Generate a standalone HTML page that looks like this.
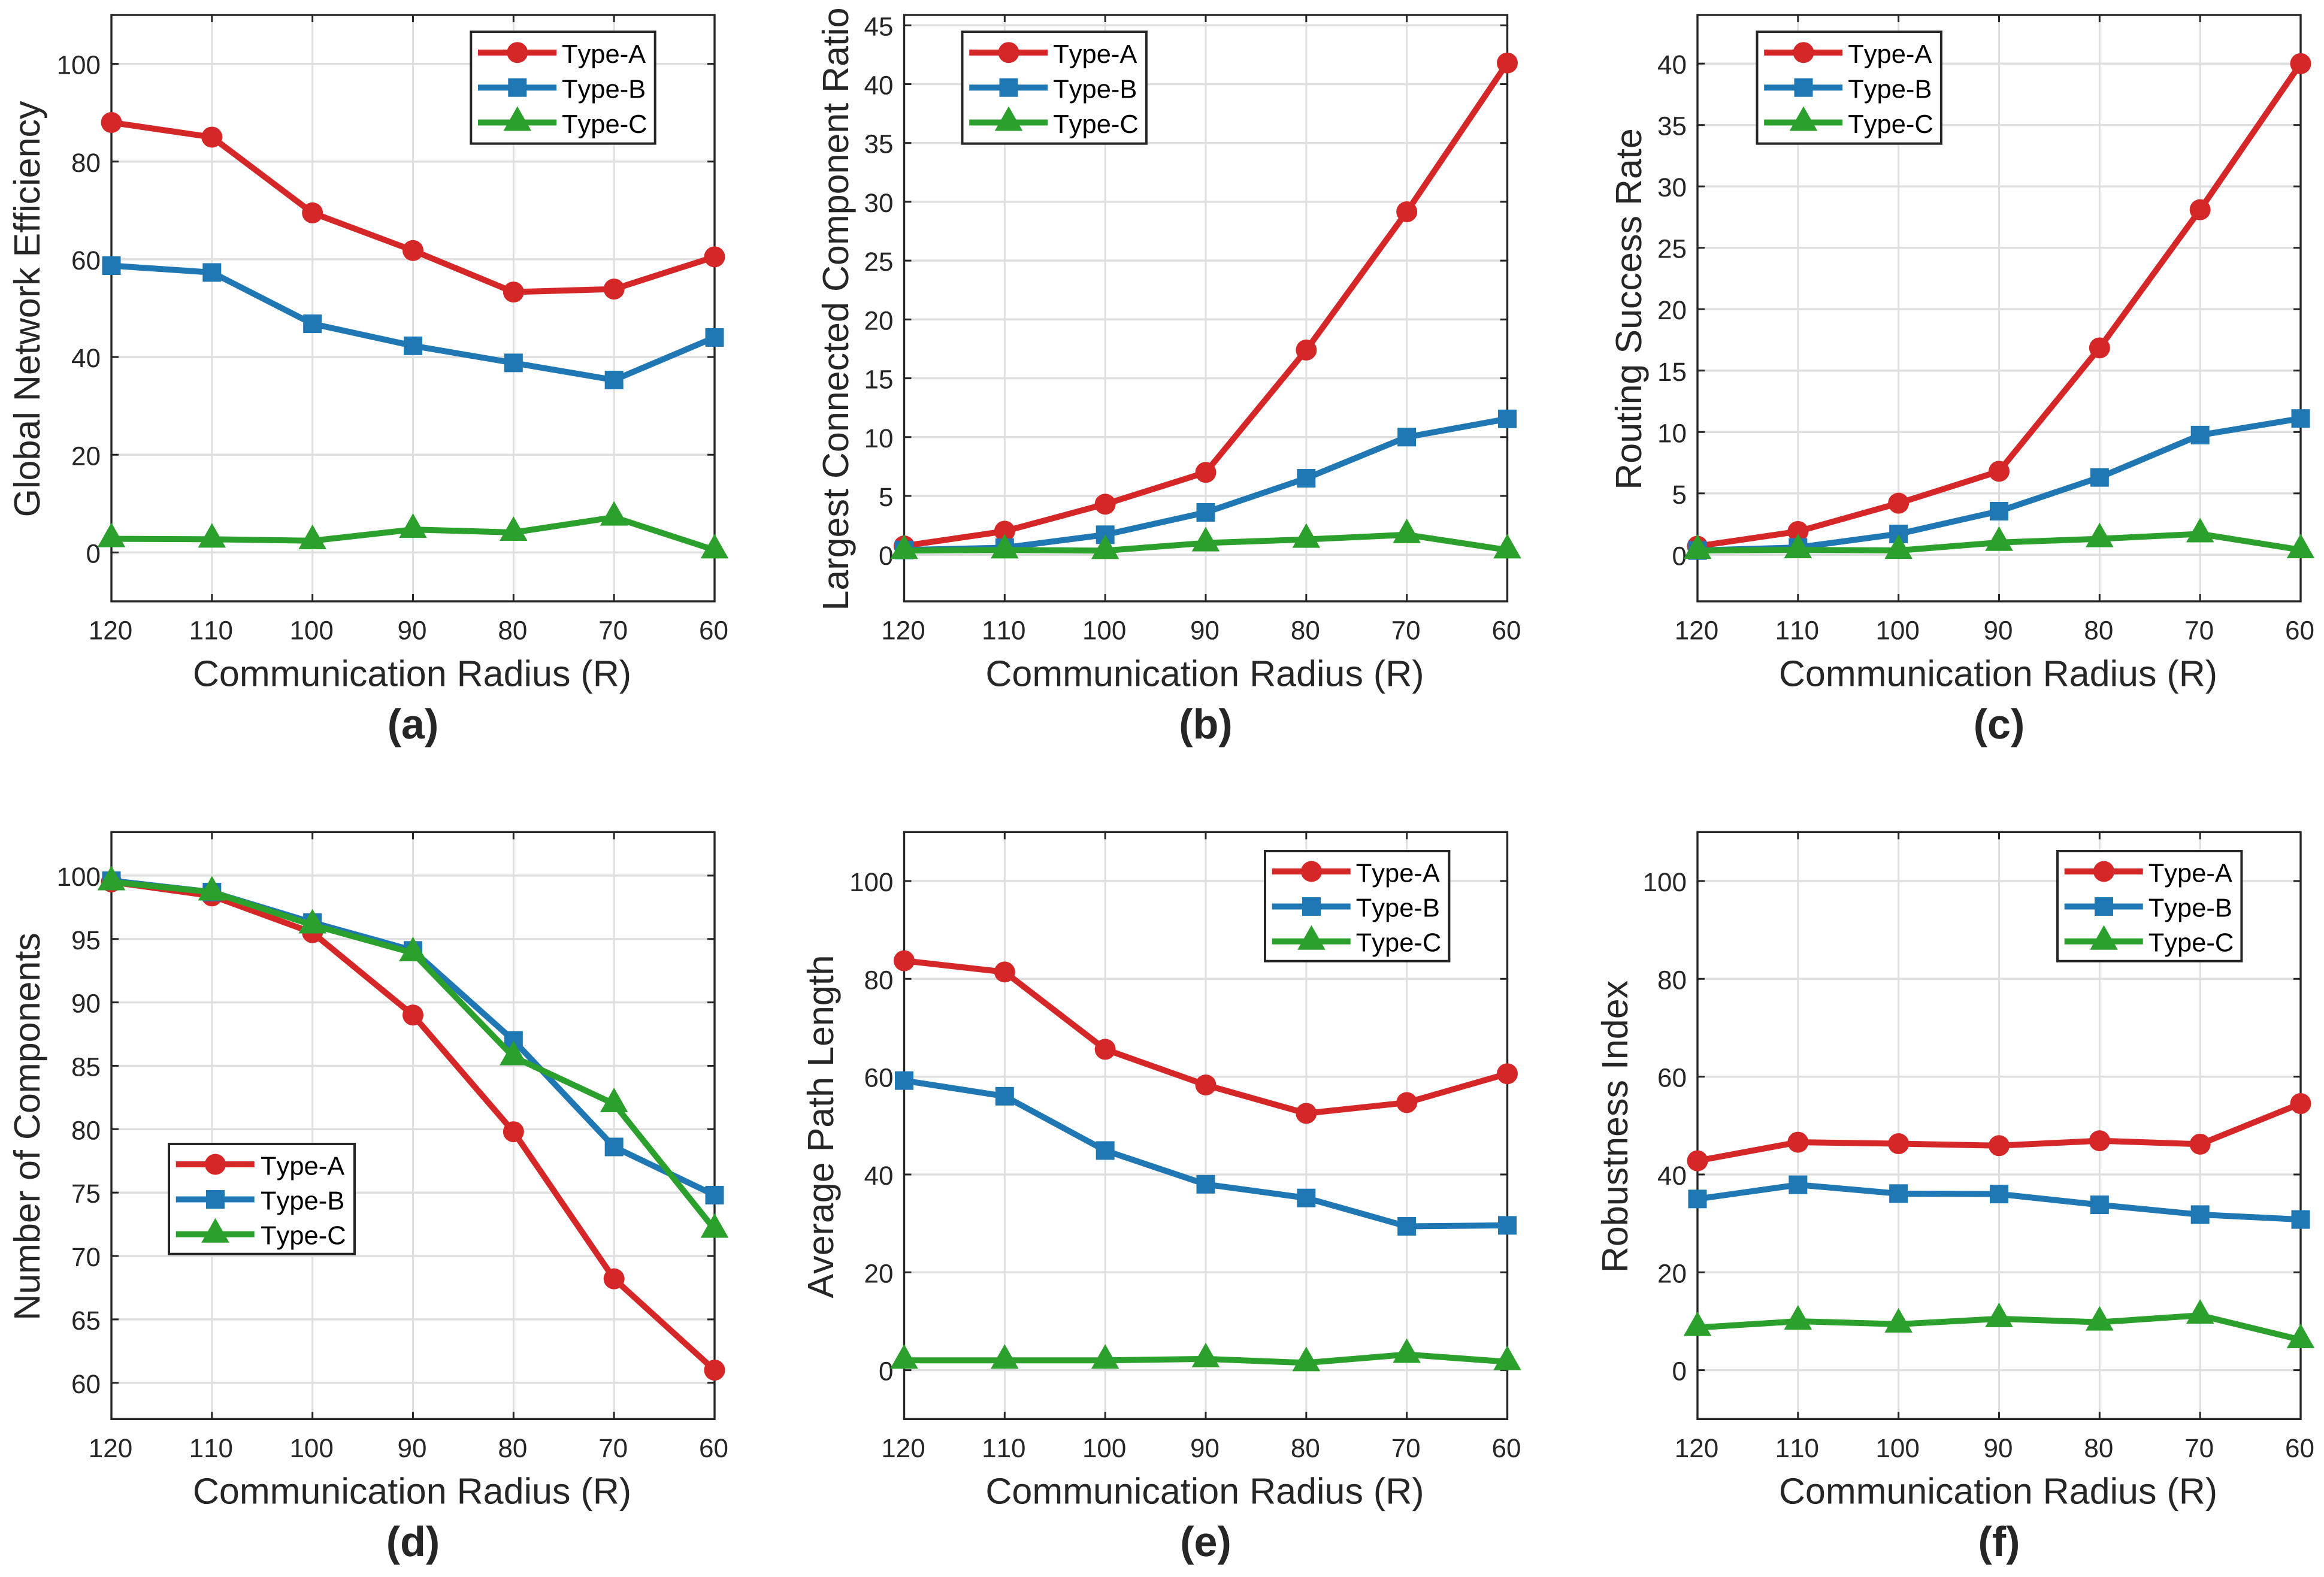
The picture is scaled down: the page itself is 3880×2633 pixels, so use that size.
<!DOCTYPE html>
<html lang="en">
<head>
<meta charset="utf-8">
<title>Network metrics versus communication radius</title>
<style>
  html, body { margin: 0; padding: 0; background: #ffffff; }
  svg { display: block; font-family: "Liberation Sans", Arial, sans-serif; text-rendering: geometricPrecision; font-kerning: none; }
  .axis-title { font-size: 61px; fill: #262626; text-anchor: middle; }
  .panel-label { font-size: 70px; font-weight: bold; fill: #262626; text-anchor: middle; }
  .tick-label { font-size: 44px; fill: #262626; }
  .legend-text { font-size: 43.5px; fill: #000000; }
  .legend-box { fill: #ffffff; stroke: #262626; stroke-width: 4; }
</style>
</head>
<body>
<svg id="figure" xmlns="http://www.w3.org/2000/svg" width="3880" height="2633" viewBox="0 0 3880 2633">
  <rect x="0" y="0" width="3880" height="2633" fill="#ffffff"/>

  <defs>
    <g id="legend-entries">
      <line x1="11.7" x2="142.7" y1="34.7" y2="34.7" stroke="#d62728" stroke-width="10"/>
      <circle cx="77.5" cy="34.7" r="17.5" fill="#d62728"/>
      <line x1="11.7" x2="142.7" y1="93.2" y2="93.2" stroke="#1f77b4" stroke-width="10"/>
      <rect x="62" y="77.7" width="31" height="31" fill="#1f77b4"/>
      <line x1="11.7" x2="142.7" y1="151.5" y2="151.5" stroke="#2ca02c" stroke-width="10"/>
      <polygon points="77.5,124.5 100.8,165.5 54.2,165.5" fill="#2ca02c"/>
    </g>
  </defs>

  <g>
    <g id="plot-a"></g>
    <text class="axis-title" x="688" y="1145.7">Communication Radius (R)</text>
    <text class="axis-title" transform="translate(66,516) rotate(-90)">Global Network Efficiency</text>
    <text class="panel-label" x="689.5" y="1233">(a)</text>
    <g transform="translate(786.3,53)">
      <rect class="legend-box" x="0" y="0" width="307.4" height="186.7"/>
      <use href="#legend-entries"/>
      <text class="legend-text" x="151.7" y="52.2">Type-A</text>
      <text class="legend-text" x="151.7" y="110.7">Type-B</text>
      <text class="legend-text" x="151.7" y="169">Type-C</text>
    </g>
  </g>

  <g>
    <g id="plot-b"></g>
    <text class="axis-title" x="2011.5" y="1145.7">Communication Radius (R)</text>
    <text class="axis-title" transform="translate(1416,516) rotate(-90)">Largest Connected Component Ratio</text>
    <text class="panel-label" x="2013" y="1233">(b)</text>
    <g transform="translate(1606.5,53)">
      <rect class="legend-box" x="0" y="0" width="307.4" height="186.7"/>
      <use href="#legend-entries"/>
      <text class="legend-text" x="151.7" y="52.2">Type-A</text>
      <text class="legend-text" x="151.7" y="110.7">Type-B</text>
      <text class="legend-text" x="151.7" y="169">Type-C</text>
    </g>
  </g>

  <g>
    <g id="plot-c"></g>
    <text class="axis-title" x="3336" y="1145.7">Communication Radius (R)</text>
    <text class="axis-title" transform="translate(2740,516) rotate(-90)">Routing Success Rate</text>
    <text class="panel-label" x="3337.5" y="1233">(c)</text>
    <g transform="translate(2933.5,53)">
      <rect class="legend-box" x="0" y="0" width="307.4" height="186.7"/>
      <use href="#legend-entries"/>
      <text class="legend-text" x="151.7" y="52.2">Type-A</text>
      <text class="legend-text" x="151.7" y="110.7">Type-B</text>
      <text class="legend-text" x="151.7" y="169">Type-C</text>
    </g>
  </g>

  <g>
    <g id="plot-d"></g>
    <text class="axis-title" x="688" y="2510.7">Communication Radius (R)</text>
    <text class="axis-title" transform="translate(66,1881) rotate(-90)">Number of Components</text>
    <text class="panel-label" x="689.5" y="2598">(d)</text>
    <g transform="translate(282,1910)">
      <rect class="legend-box" x="0" y="0" width="310" height="183.7"/>
      <use href="#legend-entries" y="-0.7"/>
      <text class="legend-text" x="153" y="51.7">Type-A</text>
      <text class="legend-text" x="153" y="109.7">Type-B</text>
      <text class="legend-text" x="153" y="167.7">Type-C</text>
    </g>
  </g>

  <g>
    <g id="plot-e"></g>
    <text class="axis-title" x="2011.5" y="2510.7">Communication Radius (R)</text>
    <text class="axis-title" transform="translate(1391,1881) rotate(-90)">Average Path Length</text>
    <text class="panel-label" x="2013" y="2598">(e)</text>
    <g transform="translate(2112,1421)">
      <rect class="legend-box" x="0" y="0" width="307.4" height="183.7"/>
      <use href="#legend-entries" y="-0.7"/>
      <text class="legend-text" x="151.7" y="51.7">Type-A</text>
      <text class="legend-text" x="151.7" y="109.7">Type-B</text>
      <text class="legend-text" x="151.7" y="167.7">Type-C</text>
    </g>
  </g>

  <g>
    <g id="plot-f"></g>
    <text class="axis-title" x="3336" y="2510.7">Communication Radius (R)</text>
    <text class="axis-title" transform="translate(2717,1881) rotate(-90)">Robustness Index</text>
    <text class="panel-label" x="3337.5" y="2598">(f)</text>
    <g transform="translate(3435,1421)">
      <rect class="legend-box" x="0" y="0" width="307.4" height="183.7"/>
      <use href="#legend-entries" y="-0.7"/>
      <text class="legend-text" x="151.7" y="51.7">Type-A</text>
      <text class="legend-text" x="151.7" y="109.7">Type-B</text>
      <text class="legend-text" x="151.7" y="167.7">Type-C</text>
    </g>
  </g>
</svg>

<script>
// ---- Data ----
const categories = [120, 110, 100, 90, 80, 70, 60];

const efficiencyTypeA = [88, 85, 69.5, 61.8, 53.3, 53.9, 60.5];
const efficiencyTypeB = [58.7, 57.3, 46.8, 42.3, 38.8, 35.3, 44];
const efficiencyTypeC = [2.8, 2.7, 2.4, 4.7, 4.1, 7.2, 0.5];
const efficiencyTicks = [0, 20, 40, 60, 80, 100];
const efficiencyLimits = [-10, 110];

const componentRatioTypeA = [0.75, 2, 4.3, 7, 17.4, 29.15, 41.8];
const componentRatioTypeB = [0.4, 0.6, 1.7, 3.6, 6.5, 10, 11.55];
const componentRatioTypeC = [0.35, 0.4, 0.35, 1, 1.3, 1.7, 0.4];
const componentRatioTicks = [0, 5, 10, 15, 20, 25, 30, 35, 40, 45];
const componentRatioLimits = [-3.96, 45.88];

const routingTypeA = [0.7, 1.9, 4.2, 6.8, 16.85, 28.1, 40];
const routingTypeB = [0.35, 0.6, 1.7, 3.55, 6.3, 9.75, 11.1];
const routingTypeC = [0.35, 0.4, 0.35, 1, 1.3, 1.7, 0.4];
const routingTicks = [0, 5, 10, 15, 20, 25, 30, 35, 40];
const routingLimits = [-3.79, 43.96];

const componentsTypeA = [99.5, 98.4, 95.5, 89, 79.8, 68.2, 61];
const componentsTypeB = [99.6, 98.7, 96.3, 94.1, 87, 78.6, 74.8];
const componentsTypeC = [99.5, 98.7, 96.1, 93.9, 85.7, 82, 72.1];
const componentsTicks = [60, 65, 70, 75, 80, 85, 90, 95, 100];
const componentsLimits = [57.14, 103.43];

const pathLengthTypeA = [83.7, 81.4, 65.6, 58.3, 52.5, 54.7, 60.6];
const pathLengthTypeB = [59.2, 56, 44.9, 38, 35.2, 29.4, 29.6];
const pathLengthTypeC = [2, 2, 2, 2.3, 1.5, 3.2, 1.7];
const pathLengthTicks = [0, 20, 40, 60, 80, 100];
const pathLengthLimits = [-10, 110];

const robustnessTypeA = [42.8, 46.6, 46.3, 45.9, 46.9, 46.2, 54.5];
const robustnessTypeB = [35, 37.9, 36.1, 36, 33.8, 31.8, 30.8];
const robustnessTypeC = [8.7, 10, 9.4, 10.5, 9.8, 11.2, 6.2];
const robustnessTicks = [0, 20, 40, 60, 80, 100];
const robustnessLimits = [-10, 110];

// ---- Layout and styling ----
const NS = 'http://www.w3.org/2000/svg';
const columns = { left: [186, 1509.5, 2834], width: 1007 };
const rows = { top: [25, 1389.3], height: [979, 980] };
const COLOR_A = '#d62728';
const COLOR_B = '#1f77b4';
const COLOR_C = '#2ca02c';
const INK = '#262626';
const GRID = '#dfdfdf';

function make(tag, attrs, parent) {
  const el = document.createElementNS(NS, tag);
  for (const key in attrs) el.setAttribute(key, attrs[key]);
  parent.appendChild(el);
  return el;
}

function drawPanel(id, column, row, typeA, typeB, typeC, ticks, limits) {
  const root = document.getElementById('plot-' + id);
  const left = columns.left[column];
  const right = left + columns.width;
  const top = rows.top[row];
  const bottom = top + rows.height[row];

  const xMax = Math.max.apply(null, categories);
  const xMin = Math.min.apply(null, categories);
  const xScale = function (v) { return left + (xMax - v) / (xMax - xMin) * (right - left); };
  const yScale = function (v) { return bottom - (v - limits[0]) / (limits[1] - limits[0]) * (bottom - top); };

  // grid
  categories.forEach(function (c) {
    const line = make('line', { x1: xScale(c), x2: xScale(c), y1: top, y2: bottom, stroke: GRID, 'stroke-width': 3 }, root);
    
    
  });
  ticks.forEach(function (t) {
    const line = make('line', { x1: left, x2: right, y1: yScale(t), y2: yScale(t), stroke: GRID, 'stroke-width': 3.5 }, root);
    
    
  });

  // tick marks and labels
  categories.forEach(function (c) {
    const x = xScale(c);
    const low = make('line', { x1: x, x2: x, y1: bottom, y2: bottom - 12, stroke: INK, 'stroke-width': 3 }, root);
    
    
    const high = make('line', { x1: x, x2: x, y1: top, y2: top + 12, stroke: INK, 'stroke-width': 3 }, root);
    
    
    const label = make('text', { x: x - 1.5, y: bottom + 63.5, 'text-anchor': 'middle', class: 'tick-label' }, root);
    
    
    label.textContent = String(c);
  });
  ticks.forEach(function (t) {
    const y = yScale(t);
    const low = make('line', { x1: left, x2: left + 12, y1: y, y2: y, stroke: INK, 'stroke-width': 3 }, root);
    
    
    const high = make('line', { x1: right, x2: right - 12, y1: y, y2: y, stroke: INK, 'stroke-width': 3 }, root);
    
    
    const label = make('text', { x: left - 18, y: y + 17, 'text-anchor': 'end', class: 'tick-label' }, root);
    
    
    label.textContent = String(t);
  });

  // frame
  const frame = make('rect', { x: left, y: top, width: right - left, height: bottom - top, fill: 'none', stroke: INK, 'stroke-width': 3.4 }, root);
  
  

  // Type-A series
  const pointsA = categories.map(function (c, i) { return xScale(c) + ',' + yScale(typeA[i]); }).join(' ');
  const lineA = make('polyline', { points: pointsA, fill: 'none', stroke: COLOR_A, 'stroke-width': 10, 'stroke-linejoin': 'miter' }, root);
  
  
  categories.forEach(function (c, i) {
    const mark = make('circle', { cx: xScale(c), cy: yScale(typeA[i]), r: 17.5, fill: COLOR_A }, root);
    
    
  });

  // Type-B series
  const pointsB = categories.map(function (c, i) { return xScale(c) + ',' + yScale(typeB[i]); }).join(' ');
  const lineB = make('polyline', { points: pointsB, fill: 'none', stroke: COLOR_B, 'stroke-width': 10, 'stroke-linejoin': 'miter' }, root);
  
  
  categories.forEach(function (c, i) {
    const mark = make('rect', { x: xScale(c) - 15.5, y: yScale(typeB[i]) - 15.5, width: 31, height: 31, fill: COLOR_B }, root);
    
    
  });

  // Type-C series
  const pointsC = categories.map(function (c, i) { return xScale(c) + ',' + yScale(typeC[i]); }).join(' ');
  const lineC = make('polyline', { points: pointsC, fill: 'none', stroke: COLOR_C, 'stroke-width': 10, 'stroke-linejoin': 'miter' }, root);
  
  
  categories.forEach(function (c, i) {
    const x = xScale(c);
    const y = yScale(typeC[i]);
    const mark = make('polygon', { points: x + ',' + (y - 27) + ' ' + (x + 23.3) + ',' + (y + 14) + ' ' + (x - 23.3) + ',' + (y + 14), fill: COLOR_C }, root);
    
    
  });
}

drawPanel('a', 0, 0, efficiencyTypeA, efficiencyTypeB, efficiencyTypeC, efficiencyTicks, efficiencyLimits);
drawPanel('b', 1, 0, componentRatioTypeA, componentRatioTypeB, componentRatioTypeC, componentRatioTicks, componentRatioLimits);
drawPanel('c', 2, 0, routingTypeA, routingTypeB, routingTypeC, routingTicks, routingLimits);
drawPanel('d', 0, 1, componentsTypeA, componentsTypeB, componentsTypeC, componentsTicks, componentsLimits);
drawPanel('e', 1, 1, pathLengthTypeA, pathLengthTypeB, pathLengthTypeC, pathLengthTicks, pathLengthLimits);
drawPanel('f', 2, 1, robustnessTypeA, robustnessTypeB, robustnessTypeC, robustnessTicks, robustnessLimits);
</script>
</body>
</html>
